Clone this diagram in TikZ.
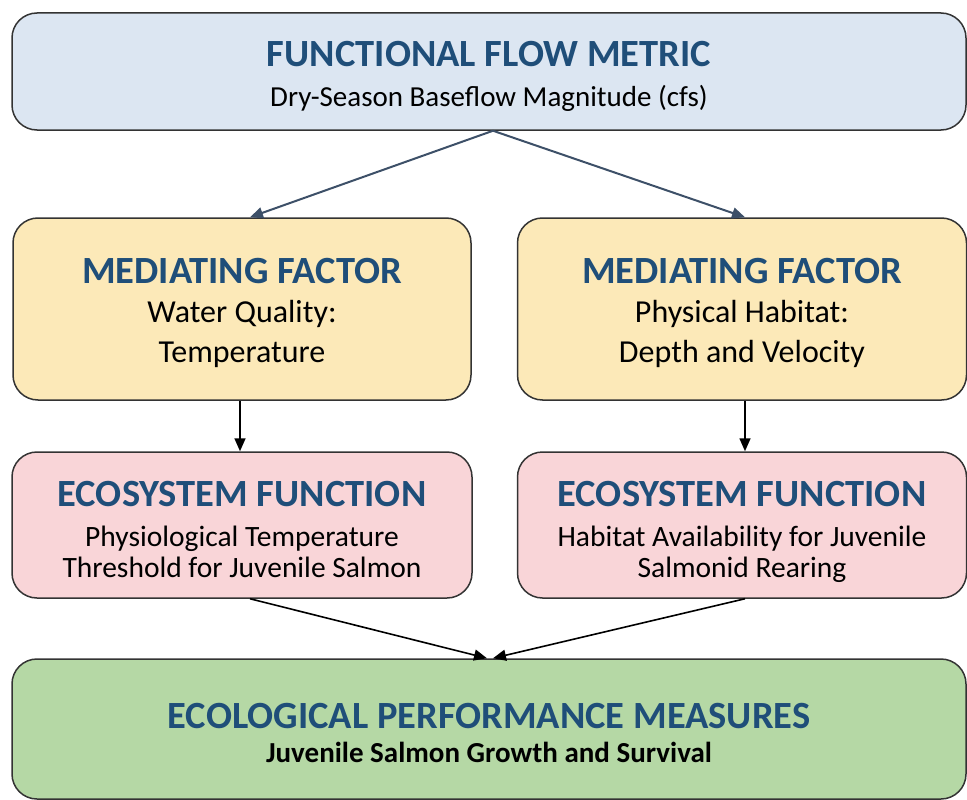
\documentclass[tikz,border=0pt]{standalone}
\usepackage{fontspec}
\setmainfont{Carlito}
\usetikzlibrary{arrows.meta}
\definecolor{flowblue}{HTML}{DCE6F2}
\definecolor{medyellow}{HTML}{FCE9B8}
\definecolor{ecopink}{HTML}{F9D5D8}
\definecolor{perfgreen}{HTML}{B5D8A5}
\definecolor{headblue}{HTML}{1F4E79}
\definecolor{arrowblue}{HTML}{3D5068}
\definecolor{rimgray}{HTML}{333333}
\newcommand{\headfont}{\fontsize{38.5}{40}\selectfont\bfseries\color{headblue}\rule{0pt}{34pt}}
\begin{document}
\begin{tikzpicture}[x=1pt, y=-1pt,
      box/.style={rectangle, rounded corners=25pt, draw=rimgray, line width=1.5pt, align=center, inner sep=0pt},
      link/.style={-{Triangle[length=13pt, width=11pt]}, line width=1.6pt}]
            \useasboundingbox (0,0) rectangle (967,800);
            \node[box, fill=flowblue, minimum width=954, minimum height=117,
                  font=\fontsize{29}{40}\selectfont] (flow) at (489, 71.5)
                  {{\headfont FUNCTIONAL FLOW METRIC}\\ Dry-Season Baseflow Magnitude (cfs)};
            \node[box, fill=medyellow, minimum width=458, minimum height=182,
                  font=\fontsize{32}{40}\selectfont] (medL) at (242, 309)
                  {{\headfont MEDIATING FACTOR}\\[-1pt] Water Quality:\\ Temperature};
            \node[box, fill=medyellow, minimum width=449, minimum height=182,
                  font=\fontsize{32}{40}\selectfont] (medR) at (742, 309)
                  {{\headfont MEDIATING FACTOR}\\[-1pt] Physical Habitat:\\ Depth and Velocity};
            \node[box, fill=ecopink, minimum width=460, minimum height=146, text depth=0pt,
                  font=\fontsize{29.5}{31}\selectfont] (ecoL) at (242, 525)
                  {{\headfont ECOSYSTEM FUNCTION}\\[9pt] Physiological Temperature\\ Threshold for Juvenile Salmon};
            \node[box, fill=ecopink, minimum width=449, minimum height=146, text depth=0pt,
                  font=\fontsize{29.5}{31}\selectfont] (ecoR) at (742, 525)
                  {{\headfont ECOSYSTEM FUNCTION}\\[9pt] Habitat Availability for Juvenile\\ Salmonid Rearing};
            \node[box, fill=perfgreen, minimum width=954, minimum height=140,
                  font=\fontsize{29}{34}\selectfont\bfseries] (perf) at (489, 729)
                  {{\headfont ECOLOGICAL PERFORMANCE MEASURES}\\ Juvenile Salmon Growth and Survival};
            \draw[link, line width=2pt, draw=arrowblue, fill=arrowblue] ([xshift=4pt]flow.south) -- ([xshift=8pt]medL.north);
            \draw[link, line width=2pt, draw=arrowblue, fill=arrowblue] ([xshift=4pt]flow.south) -- ([xshift=3pt]medR.north);
            \draw[link] ([xshift=-2pt]medL.south) -- ([xshift=-2pt]ecoL.north);
            \draw[link] ([xshift=3pt]medR.south) -- ([xshift=3pt]ecoR.north);
            \draw[link] ([xshift=8pt]ecoL.south) -- ([xshift=-2pt]perf.north);
            \draw[link] ([xshift=3pt]ecoR.south) -- ([xshift=4pt]perf.north);
\end{tikzpicture}
\end{document}
